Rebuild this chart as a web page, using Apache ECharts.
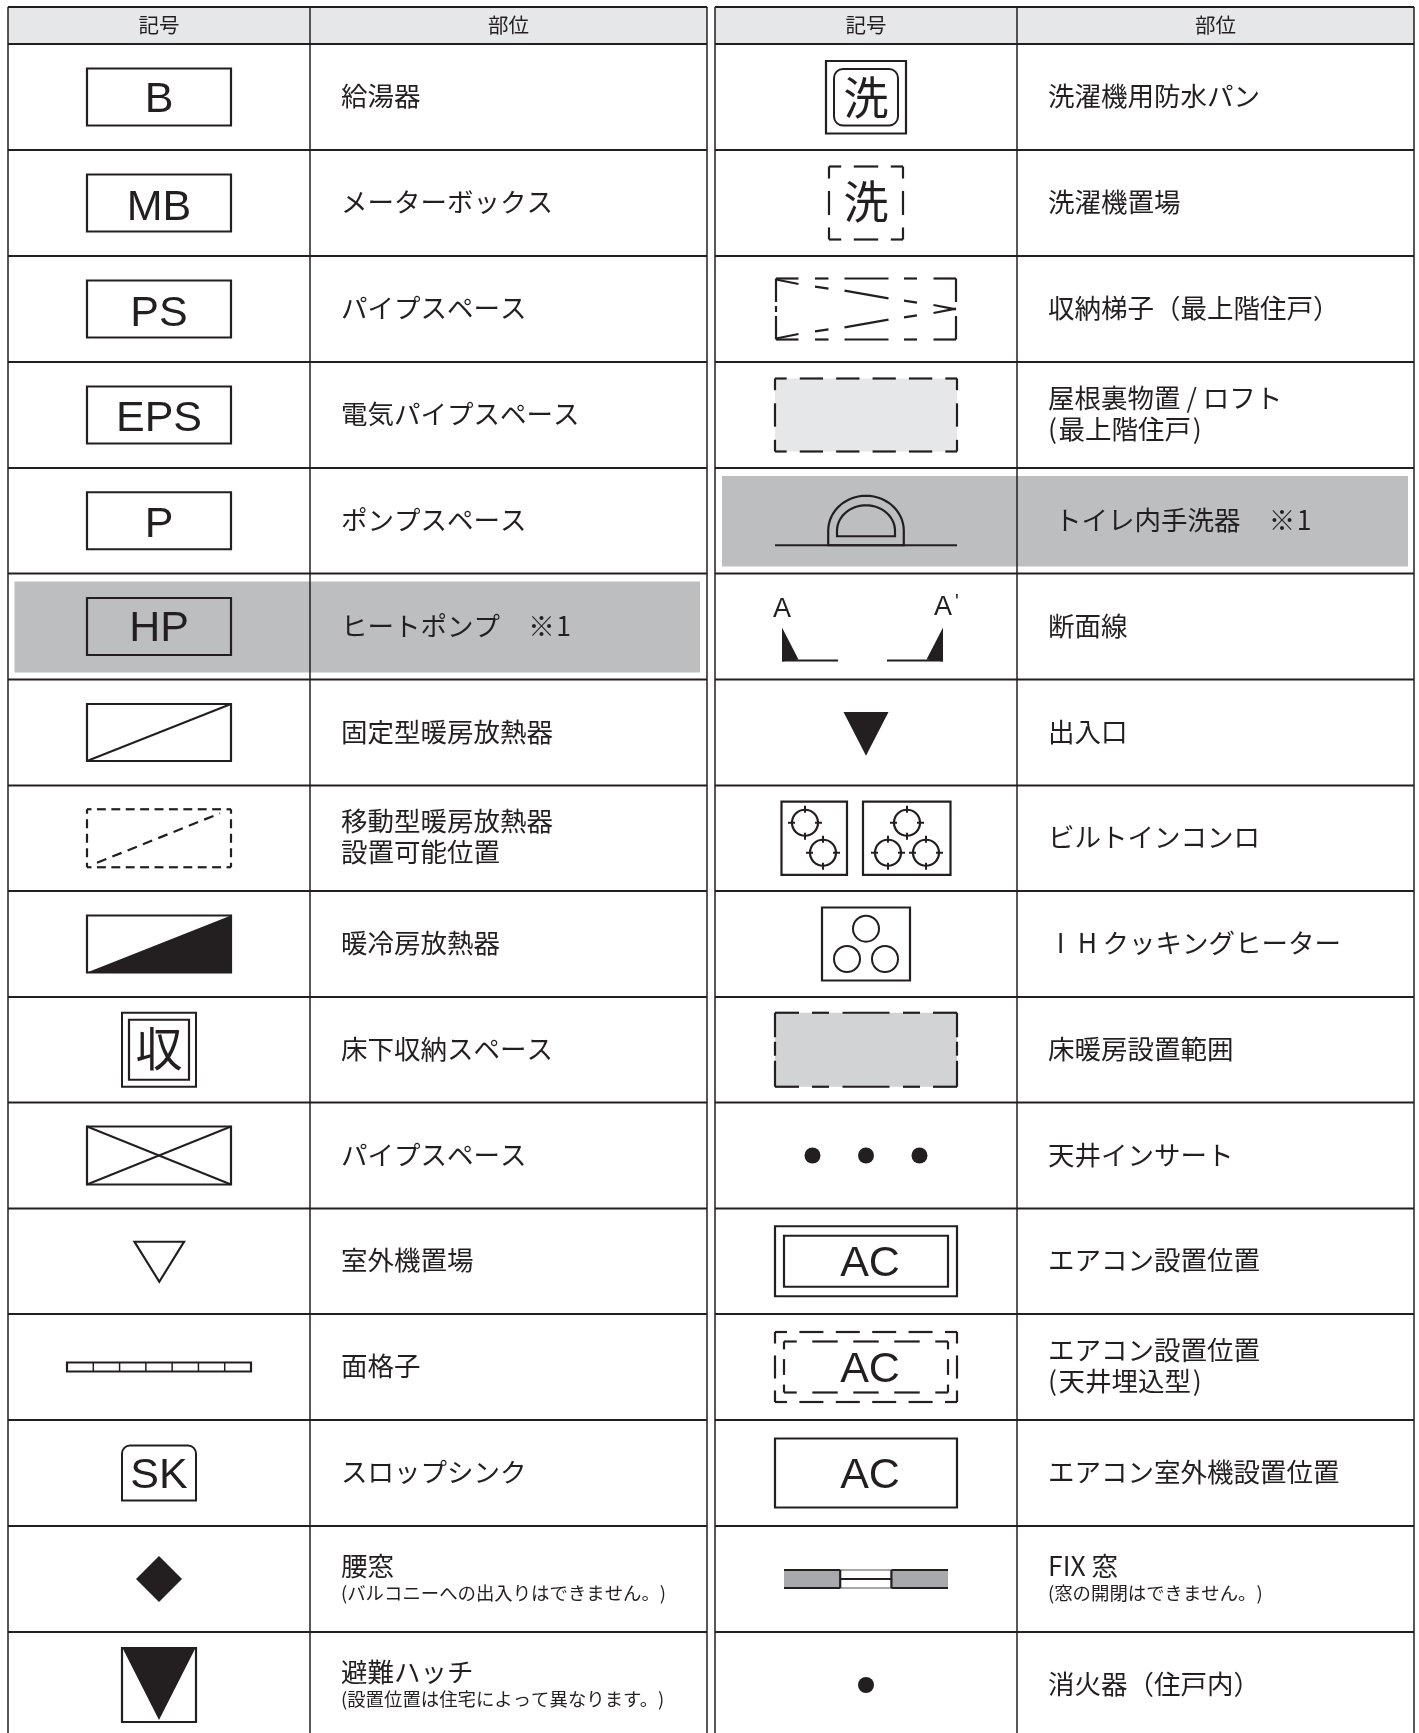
<!DOCTYPE html>
<html>
<head>
    <title>記号と部位</title>
    <meta charset="UTF-8">
    <script src="https://cdn.jsdelivr.net/npm/echarts@6/dist/echarts.min.js"></script>
    <style>
        html, body { margin: 0; padding: 0; background: #fff; }
        #main { width: 1419px; height: 1733px; }
    </style>
</head>
<body>
<div id="main"></div>
<script type="text/javascript">
    var headers = ['記号', '部位'];
    var leftSymbols = ['B', 'MB', 'PS', 'EPS', 'P', 'HP', 'heater', 'heaterMovable', 'heaterCool', 'storage', 'crossed', 'outdoor', 'lattice', 'sink', 'diamond', 'hatch'];
    var leftLabels = ['給湯器', 'メーターボックス', 'パイプスペース', '電気パイプスペース', 'ポンプスペース', 'ヒートポンプ　\u200a※\u200a1', '固定型暖房放熱器', '移動型暖房放熱器\n設置可能位置', '暖冷房放熱器', '床下収納スペース', 'パイプスペース', '室外機置場', '面格子', 'スロップシンク', '腰窓', '避難ハッチ'];
    var leftNotes = ['', '', '', '', '', '', '', '', '', '', '', '', '', '', '(バルコニーへの出入りはできません。)', '(設置位置は住宅によって異なります。)'];
    var rightSymbols = ['washerPan', 'washer', 'ladder', 'loft', 'basin', 'section', 'entry', 'cooktop', 'induction', 'floorHeat', 'inserts', 'acDouble', 'acDashed', 'acPlain', 'fixWindow', 'dot'];
    var rightLabels = ['洗濯機用防水パン', '洗濯機置場', '収納梯子（最上階住戸）', '屋根裏物置 / ロフト\n(\u200a最上階住戸\u200a)', 'トイレ内手洗器　\u200a※\u200a1', '断面線', '出入口', 'ビルトインコンロ', '\u2004I\u2002H\u2009クッキングヒーター', '床暖房設置範囲', '天井インサート', 'エアコン設置位置', 'エアコン設置位置\n(\u200a天井埋込型\u200a)', 'エアコン室外機設置位置', 'FIX 窓', '消火器（住戸内）'];
    var rightNotes = ['', '', '', '', '', '', '', '', '', '', '', '', '', '', '(窓の開閉はできません。)', ''];
    var highlightLeft = [5];
    var highlightRight = [4];

    var rowEdges = [44, 150, 256, 362, 468, 573.5, 679.5, 785.5, 891, 997, 1102.5, 1208.5, 1314, 1420, 1526, 1632, 1738];
    var columnEdges = [8, 310, 707, 715, 1017, 1414];

    var ink = '#231f20';
    var cjk = '"Noto Sans CJK JP"';
    var latin = '"Liberation Sans"';
    // 文字ごとの縦位置の補正
    var letterNudge = { B: 3, MB: 5, PS: 5, EPS: 4.6, P: 4, HP: 3 };

    // 小さい描画ヘルパー。座標はすべて軸の値で渡して api.coord を通す
    function makeKit(api) {
        function p(x, y) { return api.coord([x, y]); }
        var kit = {
            line: function (x1, y1, x2, y2, w, dash) {
                var a = p(x1, y1), b = p(x2, y2);
                return { type: 'line', shape: { x1: a[0], y1: a[1], x2: b[0], y2: b[1] },
                    style: { stroke: ink, lineWidth: w || 2.2, lineDash: dash || null } };
            },
            box: function (x0, y0, x1, y1, fill, w, r) {
                var a = p(x0, y0), b = p(x1, y1);
                return { type: 'rect', shape: { x: a[0], y: a[1], width: b[0] - a[0], height: b[1] - a[1], r: r || 0 },
                    style: { fill: fill || 'none', stroke: w === 0 ? null : ink, lineWidth: w || 2.2 } };
            },
            poly: function (pts, fill, w) {
                return { type: 'polygon', shape: { points: pts.map(function (q) { return p(q[0], q[1]); }) },
                    style: { fill: fill || 'none', stroke: w === 0 ? null : ink, lineWidth: w || 2.2 } };
            },
            circle: function (x, y, r, fill, w) {
                var c = p(x, y);
                return { type: 'circle', shape: { cx: c[0], cy: c[1], r: r },
                    style: { fill: fill || 'none', stroke: w === 0 ? null : ink, lineWidth: w || 2.2 } };
            },
            text: function (str, x, y, size, family, align) {
                var c = p(x, y);
                return { type: 'text', style: { text: str, x: c[0], y: c[1], fill: ink, fontSize: size,
                    fontFamily: family || cjk, align: align || 'center', verticalAlign: 'middle' } };
            },
            // 角を実線にした破線の枠
            dashedBox: function (x0, y0, x1, y1, nx, ny, f, w) {
                var out = [];
                function side(xa, ya, xb, yb, n) {
                    var i, t0, t1;
                    for (i = 0; i <= n + 1; i++) {
                        t0 = Math.max(0, (i - f / 2) / (n + 1));
                        t1 = Math.min(1, (i + f / 2) / (n + 1));
                        out.push(kit.line(xa + (xb - xa) * t0, ya + (yb - ya) * t0, xa + (xb - xa) * t1, ya + (yb - ya) * t1, w));
                    }
                }
                side(x0, y0, x1, y0, nx);
                side(x0, y1, x1, y1, nx);
                side(x0, y0, x0, y1, ny);
                side(x1, y0, x1, y1, ny);
                return out;
            }
        };
        return kit;
    }

    function boxed(k, cx, cy, str) {
        return [k.box(cx - 72, cy - 28.5, cx + 72, cy + 28.5), k.text(str, cx, cy + (letterNudge[str] || 3), 43, latin)];
    }

    var symbolDrawers = {
        heater: function (k, cx, cy) {
            return [k.box(cx - 72, cy - 28.5, cx + 72, cy + 28.5), k.line(cx - 72, cy + 28.5, cx + 72, cy - 28.5, 2)];
        },
        heaterMovable: function (k, cx, cy) {
            return k.dashedBox(cx - 72, cy - 29, cx + 72, cy + 29, 9, 3, 0.62).concat([
                k.line(cx - 62, cy + 24.5, cx + 61, cy - 25, 2.2, [10, 6.5])
            ]);
        },
        heaterCool: function (k, cx, cy) {
            return [k.box(cx - 72, cy - 28.5, cx + 72, cy + 28.5),
                k.poly([[cx - 72, cy + 28.5], [cx + 72, cy - 28.5], [cx + 72, cy + 28.5]], ink, 0)];
        },
        storage: function (k, cx, cy) {
            return [k.box(cx - 37, cy - 37, cx + 37, cy + 37, null, 2), k.box(cx - 30, cy - 30, cx + 30, cy + 30),
                k.text('収', cx, cy - 2, 47)];
        },
        crossed: function (k, cx, cy) {
            return [k.box(cx - 72, cy - 29, cx + 72, cy + 29), k.line(cx - 72, cy + 29, cx + 72, cy - 29, 2), k.line(cx - 72, cy - 29, cx + 72, cy + 29, 2)];
        },
        outdoor: function (k, cx, cy) {
            return [k.poly([[cx - 24.5, cy - 19.5], [cx + 25, cy - 19.5], [cx + 0.3, cy + 20.5]])];
        },
        lattice: function (k, cx, cy) {
            var out = [k.box(cx - 92, cy - 4.5, cx + 92, cy + 4.5)], i;
            for (i = 1; i < 7; i++) {
                out.push(k.line(cx - 92 + i * 184 / 7, cy - 4.5, cx - 92 + i * 184 / 7, cy + 4.5, 1.5));
            }
            return out;
        },
        sink: function (k, cx, cy) {
            return [k.box(cx - 37, cy - 27.5, cx + 37, cy + 27.5, null, 2, [8, 8, 0, 0]), k.text('SK', cx, cy + 3, 43, latin)];
        },
        diamond: function (k, cx, cy) {
            return [k.poly([[cx, cy - 23], [cx + 23, cy], [cx, cy + 23], [cx - 23, cy]], ink, 0)];
        },
        hatch: function (k, cx, cy) {
            return [k.box(cx - 37, cy - 37, cx + 37, cy + 37),
                k.poly([[cx - 36, cy - 36], [cx + 36, cy - 36], [cx, cy + 35]], ink, 0)];
        },
        washerPan: function (k, cx, cy) {
            return [k.box(cx - 40, cy - 36, cx + 40, cy + 36.5), k.box(cx - 32, cy - 28, cx + 32, cy + 28.5, null, 2, 9),
                k.text('洗', cx, cy + 1, 45)];
        },
        washer: function (k, cx, cy) {
            return k.dashedBox(cx - 37, cy - 36.5, cx + 37, cy + 36.5, 1, 1, 0.66).concat([k.text('洗', cx, cy - 1, 45)]);
        },
        ladder: function (k, cx, cy) {
            var top = [[-90, -67.5], [-51, -37.5], [-21.5, 22.5], [38, 51], [67.5, 90]];
            var out = [];
            top.forEach(function (d) {
                out.push(k.line(cx + d[0], cy - 30.5, cx + d[1], cy - 30.5));
                out.push(k.line(cx + d[0], cy + 30.5, cx + d[1], cy + 30.5));
            });
            var slant = [[-90, -29.5, -67.5, -25], [-51, -22.3, -37.5, -20.3], [-21.5, -18.3, 22.5, -10.7], [38, -8.3, 51, -6.3], [67.5, -4, 90, 0.3]];
            slant.forEach(function (d) {
                out.push(k.line(cx + d[0], cy + d[1], cx + d[2], cy + d[3]));
                out.push(k.line(cx + d[0], cy - d[1], cx + d[2], cy - d[3]));
            });
            [[-30.5, -7], [-3, 3], [7, 30.5]].forEach(function (d) {
                out.push(k.line(cx - 90, cy + d[0], cx - 90, cy + d[1]));
            });
            [[-30.5, -7], [7, 30.5]].forEach(function (d) {
                out.push(k.line(cx + 90, cy + d[0], cx + 90, cy + d[1]));
            });
            return out;
        },
        loft: function (k, cx, cy) {
            return [k.box(cx - 91, cy - 36.5, cx + 91, cy + 36.5, '#e6e7e8', 0)]
                .concat(k.dashedBox(cx - 91, cy - 36.5, cx + 91, cy + 36.5, 4, 1, 0.64));
        },
        basin: function (k, cx, cy) {
            function arch(rx, ry, low) {
                var pts = [[cx - rx, cy + low], [cx - rx, cy + 10]], a;
                for (a = 180; a <= 360; a += 6) {
                    pts.push([cx + rx * Math.cos(a * Math.PI / 180), cy + 10 + ry * Math.sin(a * Math.PI / 180)]);
                }
                pts.push([cx + rx, cy + low]);
                return k.poly(pts);
            }
            return [k.line(cx - 91, cy + 24.5, cx + 91, cy + 24.5), arch(37.8, 35, 24.5), arch(29, 25.5, 15.5)];
        },
        section: function (k, cx, cy) {
            return [k.text('A', cx - 84, cy - 17, 27, latin), k.text('A', cx + 77, cy - 19, 27, latin), k.text("'", cx + 91, cy - 24, 20, latin),
                k.poly([[cx - 84, cy + 1], [cx - 67.5, cy + 33], [cx - 84, cy + 35]], ink, 0),
                k.line(cx - 84, cy + 34, cx - 28, cy + 34),
                k.poly([[cx + 77, cy + 1], [cx + 60.5, cy + 33], [cx + 77, cy + 35]], ink, 0),
                k.line(cx + 21, cy + 34, cx + 77, cy + 34)];
        },
        entry: function (k, cx, cy) {
            return [k.poly([[cx - 22.5, cy - 20.5], [cx + 22.5, cy - 20.5], [cx, cy + 23.2]], ink, 0)];
        },
        cooktop: function (k, cx, cy) {
            var out = [k.box(cx - 84.5, cy - 36.6, cx - 19, cy + 36.6), k.box(cx - 3, cy - 36.6, cx + 84.5, cy + 36.6)];
            [[-61, -15.5], [-43, 14.5], [41, -15.5], [22, 14.5], [60, 14.5]].forEach(function (c) {
                var x = cx + c[0], y = cy + c[1];
                out.push(k.circle(x, y, 13));
                out.push(k.line(x - 17, y, x - 10, y, 2), k.line(x + 10, y, x + 17, y, 2), k.line(x, y - 17, x, y - 10, 2), k.line(x, y + 10, x, y + 17, 2));
            });
            return out;
        },
        induction: function (k, cx, cy) {
            return [k.box(cx - 44, cy - 36.5, cx + 44, cy + 36.5), k.circle(cx, cy - 15.3, 13, null, 2), k.circle(cx - 19, cy + 15, 13, null, 2), k.circle(cx + 19, cy + 15, 13, null, 2)];
        },
        floorHeat: function (k, cx, cy) {
            var out = [k.box(cx - 91, cy - 37, cx + 91, cy + 37, '#d1d3d4', 0)];
            [[-91, -67], [-54, -37], [-23.5, 23.5], [37, 54], [67, 91]].forEach(function (d) {
                out.push(k.line(cx + d[0], cy - 37, cx + d[1], cy - 37));
                out.push(k.line(cx + d[0], cy + 37, cx + d[1], cy + 37));
            });
            [[-37, -12.5], [-8, 6], [11, 37]].forEach(function (d) {
                out.push(k.line(cx - 91, cy + d[0], cx - 91, cy + d[1]));
                out.push(k.line(cx + 91, cy + d[0], cx + 91, cy + d[1]));
            });
            return out;
        },
        inserts: function (k, cx, cy) {
            return [k.circle(cx - 53.5, cy, 8, ink, 0), k.circle(cx, cy, 8, ink, 0), k.circle(cx + 53.5, cy, 8, ink, 0)];
        },
        acDouble: function (k, cx, cy) {
            return [k.box(cx - 91, cy - 35, cx + 91, cy + 35), k.box(cx - 82, cy - 25.5, cx + 82, cy + 25.5), k.text('AC', cx + 4, cy + 3, 43, latin)];
        },
        acDashed: function (k, cx, cy) {
            return k.dashedBox(cx - 91, cy - 35, cx + 91, cy + 35, 4, 1, 0.66)
                .concat(k.dashedBox(cx - 82, cy - 25.5, cx + 82, cy + 25.5, 3, 1, 0.62))
                .concat([k.text('AC', cx + 4, cy + 3, 43, latin)]);
        },
        acPlain: function (k, cx, cy) {
            return [k.box(cx - 91, cy - 34.5, cx + 91, cy + 34.5), k.text('AC', cx + 4, cy + 3, 43, latin)];
        },
        fixWindow: function (k, cx, cy) {
            return [k.box(cx - 82, cy - 9, cx - 25.8, cy + 9, '#a7a9ac', 0), k.box(cx + 25.4, cy - 9, cx + 82, cy + 9, '#a7a9ac', 0),
                k.line(cx - 82, cy - 9, cx - 25.8, cy - 9), k.line(cx - 82, cy + 9, cx - 25.8, cy + 9),
                k.line(cx + 25.4, cy - 9, cx + 82, cy - 9), k.line(cx + 25.4, cy + 9, cx + 82, cy + 9),
                k.line(cx - 25.8, cy - 9, cx + 25.4, cy - 9, 0.8), k.line(cx - 25.8, cy + 9, cx + 25.4, cy + 9, 0.8),
                k.line(cx - 25.8, cy - 9, cx - 25.8, cy + 9), k.line(cx + 25.4, cy - 9, cx + 25.4, cy + 9), k.line(cx - 25.8, cy, cx + 25.4, cy, 2)];
        },
        dot: function (k, cx, cy) {
            return [k.circle(cx, cy, 8, ink, 0)];
        }
    };

    function rowCenter(i) { return (rowEdges[i] + rowEdges[i + 1]) / 2; }

    // 表の枠（見出しの塗り、網掛け行、罫線）
    function renderFrame(params, api) {
        var k = makeKit(api);
        var x0 = api.value(0), x1 = api.value(1), x2 = api.value(2);
        var rows = api.value(3) === 0 ? highlightLeft : highlightRight;
        var inset = api.value(3) === 0 ? [14.5, 700] : [722, 1408];
        var kids = [k.box(x0, 7, x2, 44, '#e6e7e8', 0)];
        rows.forEach(function (r) {
            kids.push(k.box(inset[0], rowEdges[r] + 8, inset[1], rowEdges[r + 1] - 7, '#bcbec0', 0));
        });
        kids.push(k.line(x0, 7, x2, 7, 2));
        rowEdges.slice(0, -1).forEach(function (y) { kids.push(k.line(x0, y, x2, y, 2)); });
        [x0, x1, x2].forEach(function (x) { kids.push(k.line(x, 7, x, 1738, 1.5)); });
        kids.push(k.text(headers[0], (x0 + x1) / 2, 25.5, 20.5));
        kids.push(k.text(headers[1], (x1 + x2) / 2, 25.5, 20.5));
        return { type: 'group', children: kids };
    }

    function renderCell(symbols, labels, notes, labelX, indentRows) {
        return function (params, api) {
            var k = makeKit(api);
            var i = api.value(2), cx = api.value(0), cy = api.value(1);
            var name = symbols[i];
            var draw = symbolDrawers[name];
            var kids = draw ? draw(k, cx, cy) : boxed(k, cx, cy, name);
            var lines = labels[i].split('\n');
            var x = labelX + (indentRows.indexOf(i) >= 0 ? 7 : 0);
            if (notes[i]) {
                kids.push(k.text(lines[0], x, cy - 13, 26.5, cjk, 'left'));
                kids.push(k.text(notes[i], x, cy + 14.5, 18.4, cjk, 'left'));
            } else if (lines.length === 2) {
                kids.push(k.text(lines[0], x, cy - 17, 26.5, cjk, 'left'));
                kids.push(k.text(lines[1], x, cy + 14, 26.5, cjk, 'left'));
            } else {
                kids.push(k.text(lines[0], x, cy - 1, 26.5, cjk, 'left'));
            }
            return { type: 'group', children: kids };
        };
    }

    function cellData(symbols, cx) {
        return symbols.map(function (s, i) { return [cx, rowCenter(i), i]; });
    }

    var myChart = echarts.init(document.getElementById('main'), null, { renderer: 'canvas' });
    myChart.setOption({
        animation: false,
        backgroundColor: '#fff',
        grid: { left: 0, right: 0, top: 0, bottom: 0 },
        xAxis: { type: 'value', min: 0, max: 1419, show: false },
        yAxis: { type: 'value', min: 0, max: 1733, inverse: true, show: false },
        series: [
            { name: 'frame', type: 'custom', clip: false, silent: true, renderItem: renderFrame,
                encode: { x: 0, y: 3 },
                data: [[columnEdges[0], columnEdges[1], columnEdges[2], 0], [columnEdges[3], columnEdges[4], columnEdges[5], 1]] },
            { name: 'left', type: 'custom', silent: true, renderItem: renderCell(leftSymbols, leftLabels, leftNotes, 341, []),
                encode: { x: 0, y: 1 }, data: cellData(leftSymbols, 159) },
            { name: 'right', type: 'custom', silent: true, renderItem: renderCell(rightSymbols, rightLabels, rightNotes, 1048, highlightRight),
                encode: { x: 0, y: 1 }, data: cellData(rightSymbols, 866) }
        ]
    });
</script>
</body>
</html>
